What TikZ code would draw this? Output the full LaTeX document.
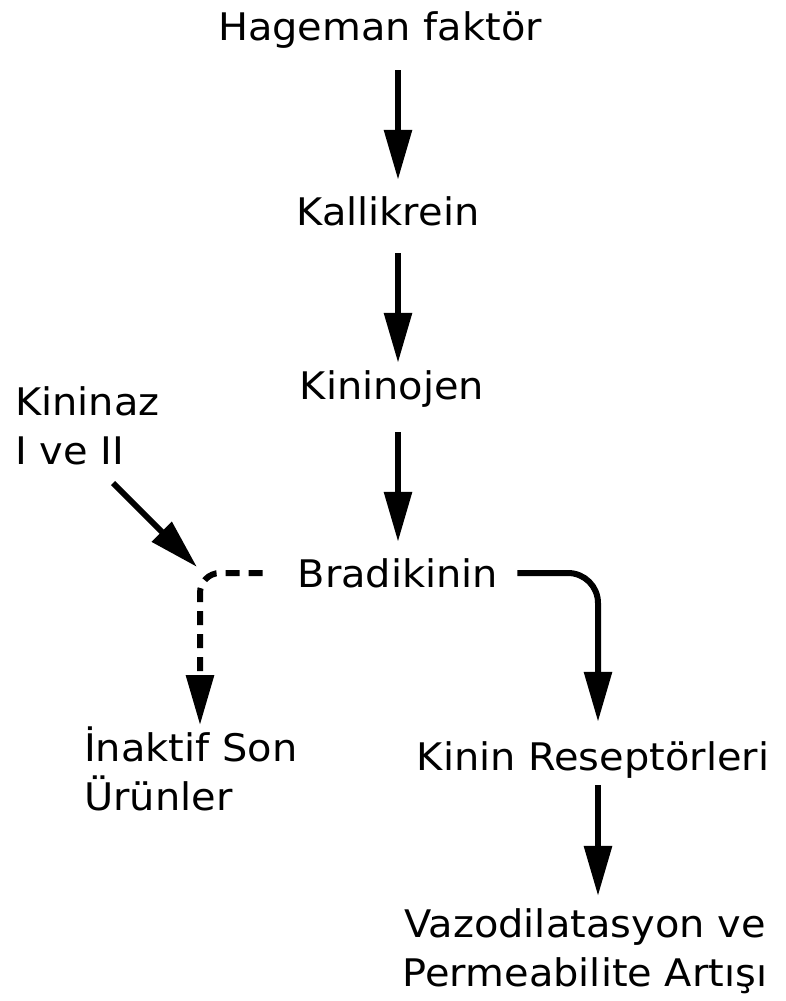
\documentclass[tikz,border=0pt]{standalone}
\usepackage{fontspec}
\setmainfont{DejaVu Sans}[FakeStretch=1.05]
\usetikzlibrary{arrows.meta}
\begin{document}
\begin{tikzpicture}[x=1pt,y=-1pt,
  lbl/.style={inner sep=0pt, font=\fontsize{38}{49}\selectfont, text height=28pt, text depth=9pt},
  mlbl/.style={inner sep=0pt, font=\fontsize{38}{49}\selectfont},
  arr/.style={line width=6pt, -{Triangle[length=50pt,width=27pt]}},
  dsh/.style={line width=6pt, dash pattern=on 14pt off 9pt, -{Triangle[length=50pt,width=27pt]}}]
\useasboundingbox (0,0) rectangle (786,1001);
\node[lbl, anchor=base] (hf) at (380,40) {Hageman faktör};
\node[lbl, anchor=base] (kal) at (388,225) {Kallikrein};
\node[lbl, anchor=base] (kin) at (392,399) {Kininojen};
\node[lbl, anchor=base] (brad) at (398,587) {Bradikinin};
\node[mlbl, anchor=base west, align=left] (kz) at (15,464) {Kininaz\\I ve II};
\node[mlbl, anchor=base west, align=left] (ina) at (84,810) {İnaktif Son\\Ürünler};
\node[lbl, anchor=base] (kr) at (593,770) {Kinin Reseptörleri};
\node[mlbl, anchor=base, align=center] (vaz) at (585,986) {Vazodilatasyon ve\\Permeabilite Artışı};
\coordinate (ax) at (398,0);
\coordinate (rc) at (598,573);
\coordinate (dj) at (200,573);
\coordinate (kzs) at (113,483);
\coordinate (kzt) at (197,567);
\draw[arr, shorten <=21pt, shorten >=17pt] (hf.south -| ax) -- (kal.north -| ax);
\draw[arr, shorten <=19pt, shorten >=8pt] (kal.south -| ax) -- (kin.north -| ax);
\draw[arr, shorten <=24pt, shorten >=17pt] (kin.south -| ax) -- (brad.north -| ax);
\draw[arr] (kzs) -- (kzt);
\draw[dsh, rounded corners=20pt, shorten <=35pt, shorten >=1pt] (brad.west |- dj) -- (dj) -- (ina.north -| dj);
\draw[arr, rounded corners=30pt, shorten <=19pt, shorten >=20pt] (brad.east |- rc) -- (rc) -- (kr.north -| rc);
\draw[arr, shorten <=6pt, shorten >=12pt] (kr.south -| rc) -- (vaz.north -| rc);
\end{tikzpicture}
\end{document}
